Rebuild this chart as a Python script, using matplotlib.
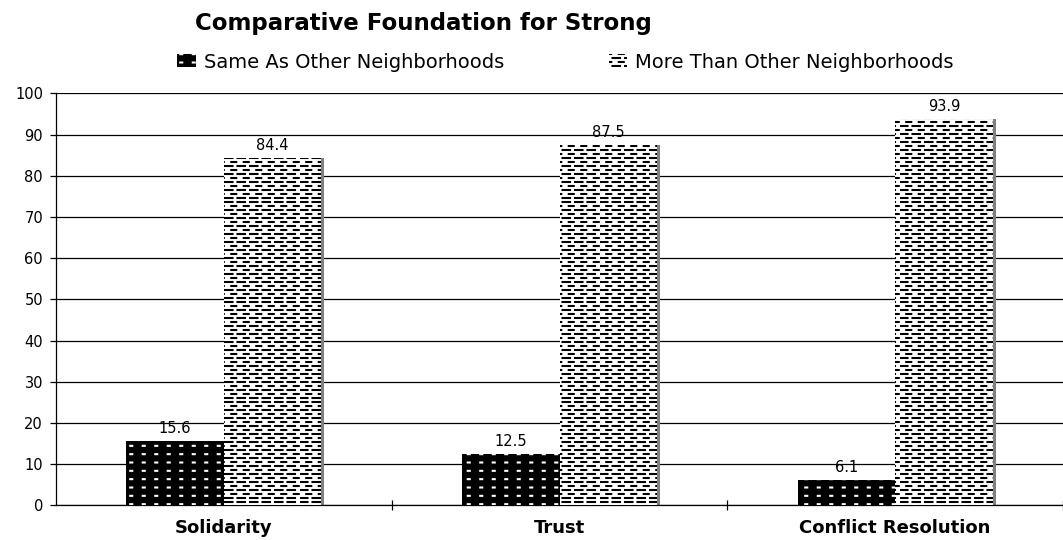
"""
Comparative Foundation for Strong - grouped bar chart
"""

import warnings
import numpy as np
import matplotlib
matplotlib.use("Agg")
import matplotlib.pyplot as plt
import matplotlib.hatch as mhatch
from matplotlib.path import Path
from matplotlib.patches import Patch

warnings.filterwarnings("ignore")

# Data
categories = ["Solidarity", "Trust", "Conflict Resolution"]
series_names = ["Same As Other Neighborhoods", "More Than Other Neighborhoods"]
same_values = [15.6, 12.5, 6.1]
more_values = [84.4, 87.5, 93.9]
y_ticks = [0, 10, 20, 30, 40, 50, 60, 70, 80, 90, 100]


class DashRows(mhatch.HatchPatternBase):
    """'d' -> staggered rows of short horizontal dashes (Excel style)"""

    def __init__(self, hatch, density):
        self.rows = 25 * hatch.count('d')
        self.cols = 8
        self.num_vertices = self.rows * self.cols * 2

    def set_vertices_and_codes(self, vertices, codes):
        k = 0
        for r in range(self.rows):
            y = (r + 0.5) / self.rows
            shift = 0.5 / self.cols if r % 2 else 0.0
            ln = 0.075 if r % 2 == 0 else 0.05
            for c in range(self.cols):
                x0 = c / self.cols + shift
                vertices[k] = (x0, y)
                vertices[k + 1] = (x0 + ln, y)
                codes[k] = Path.MOVETO
                codes[k + 1] = Path.LINETO
                k += 2


class DotGrid(mhatch.HatchPatternBase):
    """'k' -> regular grid of small square dots"""

    def __init__(self, hatch, density):
        self.rows = 12 * hatch.count('k')
        self.cols = 8
        self.num_vertices = self.rows * self.cols * 2

    def set_vertices_and_codes(self, vertices, codes):
        k = 0
        for r in range(self.rows):
            y = (r + 0.5) / self.rows
            for c in range(self.cols):
                x0 = (c + 0.5) / self.cols
                vertices[k] = (x0 - 0.01, y)
                vertices[k + 1] = (x0 + 0.01, y)
                codes[k] = Path.MOVETO
                codes[k + 1] = Path.LINETO
                k += 2


mhatch._hatch_types.append(DashRows)
mhatch._hatch_types.append(DotGrid)

plt.rcParams['font.family'] = ['DejaVu Sans']
plt.rcParams['hatch.linewidth'] = 1.5

fig = plt.figure(figsize=(10.63, 5.40), dpi=100)
ax = fig.add_axes([56 / 1063, 0.0639, 1 - 56 / 1063, 0.763])

x = np.arange(len(categories))
w = 0.29
off = 0.145
shadow_w = 0.009

# shadow behind the patterned bars
ax.bar(x + off + w / 2 + shadow_w / 2, more_values, width=shadow_w,
       color='#808080', linewidth=0, zorder=2)
b1 = ax.bar(x - off, same_values, width=w, facecolor='black',
            edgecolor='white', linewidth=0, hatch='k', zorder=3)
b2 = ax.bar(x + off, more_values, width=w, facecolor='white',
            edgecolor='black', linewidth=0, hatch='d', zorder=3)

for bars, vals in ((b1, same_values), (b2, more_values)):
    for rect, v in zip(bars, vals):
        ax.annotate(f"{v:.1f}", (rect.get_x() + rect.get_width() / 2, v),
                    xytext=(0, 3.5), textcoords='offset points',
                    ha='center', va='bottom', fontsize=10.5)

ax.set_ylim(0, 100)
ax.set_xlim(-0.5, 2.469)
ax.set_yticks(y_ticks)
ax.set_yticklabels([str(t) for t in y_ticks], fontsize=10.5)
ax.yaxis.grid(True, color='black', linewidth=0.9)
ax.set_axisbelow(True)

# category separators as major ticks, names as minor tick labels
ax.set_xticks([0.5, 1.5, 2.5])
ax.set_xticklabels([])
ax.set_xticks(x, minor=True)
ax.set_xticklabels(categories, minor=True, fontsize=13, fontweight='bold')
ax.tick_params(axis='x', which='major', direction='inout', length=7,
               width=0.9, color='black')
ax.tick_params(axis='x', which='minor', length=0, pad=9.5)
ax.tick_params(axis='y', direction='out', length=4.3, width=0.9, pad=5,
               color='black')

for side in ('top', 'right'):
    ax.spines[side].set_visible(False)
for side in ('left', 'bottom'):
    ax.spines[side].set_color('black')
    ax.spines[side].set_linewidth(0.9)

fig.text(0.3984, 1 - 30 / 540, "Comparative Foundation for Strong",
         ha='center', va='baseline', fontsize=16.5, fontweight='bold')

handles = [Patch(facecolor='black', edgecolor='white', linewidth=0, hatch='k'),
           Patch(facecolor='white', edgecolor='black', linewidth=0, hatch='d')]
fig.legend(handles, series_names, loc='center', bbox_to_anchor=(0.532, 0.885),
           ncol=2, frameon=False, fontsize=14, handlelength=0.95,
           handleheight=0.65, handletextpad=0.4, columnspacing=5.4,
           borderpad=0)

fig.savefig('out.png', dpi=100)
